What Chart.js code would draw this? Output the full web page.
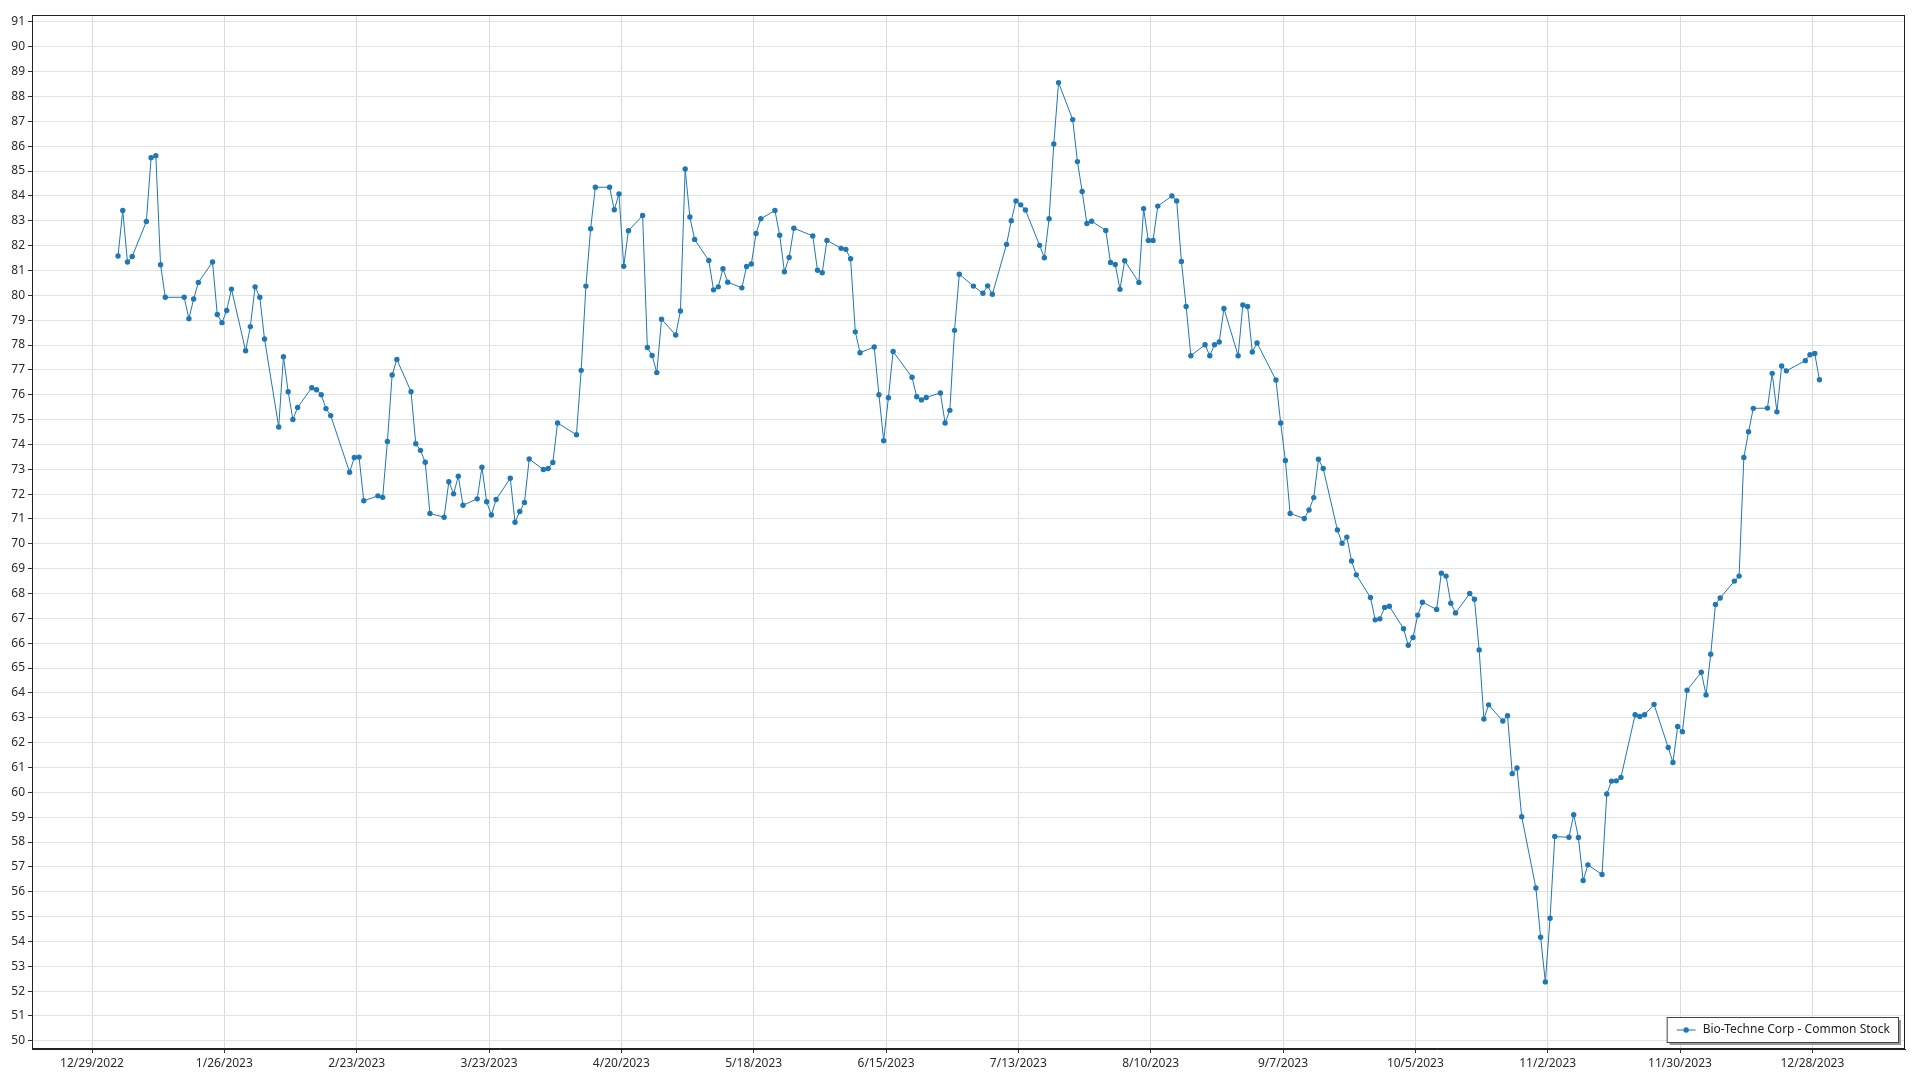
<!DOCTYPE html>
<html>
<head>
<meta charset="utf-8">
<script src="https://cdn.jsdelivr.net/npm/chart.js@4.4.1/dist/chart.umd.min.js"></script>
<style>
  html, body { margin: 0; padding: 0; background: #ffffff; }
  #wrap { width: 1920px; height: 1080px; position: relative; }
</style>
</head>
<body>
<div id="wrap"><canvas id="chart"></canvas></div>
<script>
// trading days, as day of year 2023 (1 = Jan 1)
const tradeDays = [
  3, 4, 5, 6, 9, 10, 11, 12, 13, 17, 18, 19, 20, 23, 24, 25, 26, 27, 30, 31,
  32, 33, 34, 37, 38, 39, 40, 41, 44, 45, 46, 47, 48, 52, 53, 54, 55, 58, 59,
  60, 61, 62, 65, 66, 67, 68, 69, 72, 73, 74, 75, 76, 79, 80, 81, 82, 83, 86, 87, 88, 89, 90,
  93, 94, 95, 96, 100, 101, 102, 103, 104, 107, 108, 109, 110, 111, 114, 115, 116, 117, 118,
  121, 122, 123, 124, 125, 128, 129, 130, 131, 132, 135, 136, 137, 138, 139, 142, 143, 144, 145, 146, 150, 151,
  152, 153, 156, 157, 158, 159, 160, 163, 164, 165, 166, 167, 171, 172, 173, 174, 177, 178, 179, 180, 181,
  184, 186, 187, 188, 191, 192, 193, 194, 195, 198, 199, 200, 201, 202, 205, 206, 207, 208, 209, 212,
  213, 214, 215, 216, 219, 220, 221, 222, 223, 226, 227, 228, 229, 230, 233, 234, 235, 236, 237, 240, 241, 242, 243,
  244, 248, 249, 250, 251, 254, 255, 256, 257, 258, 261, 262, 263, 264, 265, 268, 269, 270, 271, 272,
  275, 276, 277, 278, 279, 282, 283, 284, 285, 286, 289, 290, 291, 292, 293, 296, 297, 298, 299, 300, 303, 304,
  305, 306, 307, 310, 311, 312, 313, 314, 317, 318, 319, 320, 321, 324, 325, 326, 328, 331, 332, 333, 334,
  335, 338, 339, 340, 341, 342, 345, 346, 347, 348, 349, 352, 353, 354, 355, 356, 360, 361, 362, 363
];

const closePrices = [
  81.58, 83.41, 81.34, 81.56, 82.97, 85.54, 85.62, 81.23, 79.92, 79.92, 79.06, 79.85, 80.52, 81.34, 79.23, 78.90, 79.39, 80.25, 77.77, 78.74,
  80.34, 79.92, 78.24, 74.70, 77.53, 76.12, 75.00, 75.49, 76.28, 76.20, 76.00, 75.44, 75.16, 72.88, 73.47, 73.49, 71.73, 71.93, 71.87,
  74.12, 76.79, 77.42, 76.12, 74.03, 73.76, 73.28, 71.22, 71.07, 72.50, 72.01, 72.72, 71.55, 71.81, 73.08, 71.69, 71.16, 71.78, 72.64, 70.87, 71.30, 71.66, 73.41,
  72.99, 73.03, 73.27, 74.86, 74.39, 76.98, 80.37, 82.68, 84.35, 84.35, 83.44, 84.08, 81.17, 82.60, 83.21, 77.90, 77.58, 76.89, 79.04,
  78.40, 79.37, 85.08, 83.15, 82.25, 81.40, 80.22, 80.34, 81.07, 80.53, 80.30, 81.16, 81.26, 82.49, 83.08, 83.41, 82.42, 80.95, 81.52, 82.70, 82.39, 81.01,
  80.91, 82.21, 81.89, 81.85, 81.47, 78.53, 77.69, 77.92, 76.00, 74.15, 75.88, 77.74, 76.70, 75.92, 75.79, 75.89, 76.07, 74.86, 75.37, 78.59, 80.85,
  80.37, 80.08, 80.38, 80.04, 82.05, 83.00, 83.80, 83.64, 83.43, 82.01, 81.51, 83.08, 86.09, 88.56, 87.07, 85.38, 84.18, 82.89, 82.98, 82.61,
  81.32, 81.24, 80.24, 81.39, 80.52, 83.49, 82.21, 82.21, 83.59, 84.00, 83.80, 81.36, 79.55, 77.57, 78.01, 77.57, 78.01, 78.12, 79.47, 77.57, 79.61, 79.55, 77.72,
  78.08, 76.59, 74.86, 73.35, 71.22, 71.02, 71.36, 71.86, 73.40, 73.03, 70.56, 70.02, 70.27, 69.31, 68.75, 67.84, 66.94, 66.98, 67.44, 67.49,
  66.58, 65.92, 66.23, 67.13, 67.65, 67.36, 68.82, 68.70, 67.61, 67.22, 68.00, 67.77, 65.73, 62.95, 63.52, 62.87, 63.08, 60.75, 60.98, 59.02, 56.15, 54.17,
  52.37, 54.93, 58.22, 58.19, 59.10, 58.18, 56.45, 57.08, 56.69, 59.93, 60.45, 60.46, 60.60, 63.12, 63.05, 63.12, 63.54, 61.80, 61.20, 62.65, 62.44,
  64.11, 64.83, 63.92, 65.56, 67.56, 67.82, 68.50, 68.70, 73.47, 74.51, 75.45, 75.46, 76.86, 75.31, 77.16, 76.96, 77.37, 77.61, 77.66, 76.60
];

// x axis ticks every 28 days, starting 12/29/2022 (day -2)
const tickDays = [-2, 26, 54, 82, 110, 138, 166, 194, 222, 250, 278, 306, 334, 362];
const tickLabels = [
  "12/29/2022", "1/26/2023", "2/23/2023", "3/23/2023", "4/20/2023", "5/18/2023", "6/15/2023",
  "7/13/2023", "8/10/2023", "9/7/2023", "10/5/2023", "11/2/2023", "11/30/2023", "12/28/2023"
];
const yTicks = [];
for (let v = 50; v <= 91; v++) yTicks.push(v);

const seriesName = "Bio-Techne Corp - Common Stock";
const lineColor = "#1f77b4";
const MIDDAY = 0.5; // quotes are stamped at midday, ticks at midnight

Chart.defaults.font.family = '"Segoe UI", "Noto Sans", "Open Sans", sans-serif';
Chart.defaults.font.size = 12;
Chart.defaults.color = "#2a2a2a";

const frameAndLegend = {
  id: "frameAndLegend",
  afterDraw(chart) {
    const { ctx, chartArea } = chart;
    ctx.save();
    ctx.strokeStyle = "#222222";
    ctx.lineWidth = 1;
    ctx.strokeRect(chartArea.left + 0.5, chartArea.top + 0.5,
      chartArea.right - chartArea.left - 1, chartArea.bottom - chartArea.top - 1);

    // legend box at bottom right inside the plot
    ctx.font = '12px "Segoe UI", "Noto Sans", "Open Sans", sans-serif';
    const label = chart.data.datasets[0].label;
    const tw = ctx.measureText(label).width;
    const w = tw + 44, h = 25;
    const x = chartArea.right - 7 - w, y = chartArea.bottom - 7 - h;
    ctx.fillStyle = "#9a9a9a";
    ctx.fillRect(x + 3, y + 3, w, h);
    ctx.fillStyle = "#ffffff";
    ctx.fillRect(x, y, w, h);
    ctx.strokeStyle = "#444444";
    ctx.strokeRect(x + 0.5, y + 0.5, w, h);
    const cy = y + h / 2 + 0.5;
    ctx.strokeStyle = lineColor;
    ctx.beginPath();
    ctx.moveTo(x + 10, cy);
    ctx.lineTo(x + 29, cy);
    ctx.stroke();
    ctx.fillStyle = lineColor;
    ctx.beginPath();
    ctx.arc(x + 19.5, cy, 2.7, 0, Math.PI * 2);
    ctx.fill();
    ctx.fillStyle = "#222222";
    ctx.textBaseline = "middle";
    ctx.fillText(label, x + 36, cy);
    ctx.restore();
  }
};

new Chart(document.getElementById("chart"), {
  type: "line",
  data: {
    datasets: [{
      label: seriesName,
      data: tradeDays.map((d, i) => ({ x: d + MIDDAY, y: closePrices[i] })),
      borderColor: lineColor,
      backgroundColor: lineColor,
      borderWidth: 1,
      pointRadius: 2.7,
      pointBorderWidth: 0,
      tension: 0,
    }],
  },
  options: {
    responsive: true,
    maintainAspectRatio: false,
    animation: false,
    layout: { padding: { top: 15, right: 15, left: 0, bottom: 0 } },
    plugins: {
      legend: { display: false },
      tooltip: { enabled: false },
    },
    scales: {
      x: {
        type: "linear",
        min: -14.7,
        max: 381.6,
        afterBuildTicks: (scale) => { scale.ticks = tickDays.map((v) => ({ value: v })); },
        afterFit: (scale) => { scale.height = 31; },
        ticks: {
          autoSkip: false,
          maxRotation: 0,
          padding: 3,
          callback: (value) => tickLabels[tickDays.indexOf(value)],
        },
        grid: { color: "#dadada", tickColor: "#333333", tickLength: 4 },
        border: { display: true, color: "#222222" },
      },
      y: {
        min: 49.67,
        max: 91.28,
        afterBuildTicks: (scale) => { scale.ticks = yTicks.map((v) => ({ value: v })); },
        afterFit: (scale) => { scale.width = 32; },
        ticks: { padding: 3 },
        grid: { color: "#e2e2e2", tickColor: "#333333", tickLength: 4 },
        border: { display: true, color: "#222222" },
      },
    },
  },
  plugins: [frameAndLegend],
});
</script>
</body>
</html>
